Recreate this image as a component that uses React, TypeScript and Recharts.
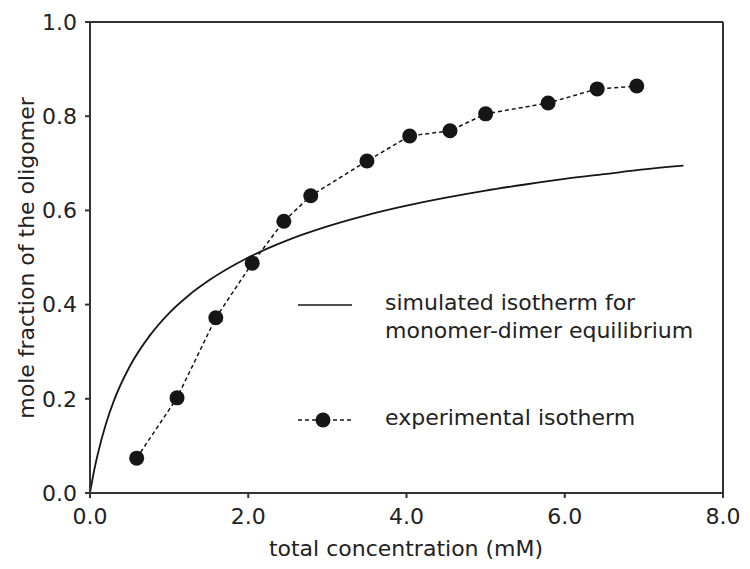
import React from 'react';
import { LineChart, Line, XAxis, YAxis, ReferenceLine, Legend } from 'recharts';

const FONT = 'DejaVu Sans';
const INK = '#161616';
const AXIS = '#333333';

// axis ticks
const xTicks = [0, 2, 4, 6, 8];
const yTicks = [0, 0.2, 0.4, 0.6, 0.8, 1.0];

// simulated isotherm (monomer-dimer equilibrium)
const simX = [0, 0.01, 0.02, 0.05, 0.1, 0.2, 0.3, 0.5, 0.75, 1.0, 1.25, 1.5, 2.0, 2.5, 3.0, 3.5, 4.0, 4.5, 5.0, 5.5, 6.0, 6.5, 7.0, 7.5];
const simY = [0, 0.010, 0.019, 0.046, 0.084, 0.146, 0.195, 0.268, 0.333, 0.382, 0.420, 0.451, 0.500, 0.537, 0.566, 0.590, 0.610, 0.627, 0.642, 0.655, 0.667, 0.677, 0.687, 0.695];

// experimental isotherm points
const expX = [0.59, 1.10, 1.59, 2.05, 2.45, 2.79, 3.50, 4.04, 4.55, 5.00, 5.79, 6.41, 6.91];
const expY = [0.074, 0.202, 0.372, 0.488, 0.577, 0.631, 0.705, 0.758, 0.769, 0.805, 0.828, 0.858, 0.864];

const simName1 = 'simulated isotherm for';
const simName2 = 'monomer-dimer equilibrium';
const expName = 'experimental isotherm';

const simulated = simX.map((x, i) => ({ x, y: simY[i] }));
const experimental = expX.map((x, i) => ({ x, y: expY[i] }));

const textStyle = { fontFamily: FONT, fontSize: 22, fill: '#222' };

const LegendBox = () => (
  <svg width={750} height={569} style={{ position: 'absolute', left: 0, top: 0, pointerEvents: 'none' }}>
    <line x1={298} y1={305} x2={352} y2={305} stroke={INK} strokeWidth={1.6} />
    <text x={385} y={310} {...textStyle}>{simName1}</text>
    <text x={385} y={337.5} {...textStyle}>{simName2}</text>
    <line x1={298} y1={420} x2={351} y2={420} stroke={INK} strokeWidth={1.5} strokeDasharray="4 3" />
    <circle cx={323} cy={420} r={7.5} fill={INK} />
    <text x={385} y={425} {...textStyle}>{expName}</text>
  </svg>
);

export default function App() {
  return (
    <div style={{ position: 'absolute', left: 0, top: 0, width: 750, height: 569, background: '#fff' }}>
      <LineChart width={750} height={569} margin={{ top: 22, right: 27, bottom: 0, left: 0 }}>
        <XAxis
          type="number"
          dataKey="x"
          domain={[0, 8]}
          ticks={xTicks}
          interval={0}
          tickFormatter={(v: number) => v.toFixed(1)}
          height={76}
          tickSize={5}
          tickMargin={10}
          axisLine={{ stroke: AXIS, strokeWidth: 2 }}
          tickLine={{ stroke: AXIS, strokeWidth: 2 }}
          tick={textStyle}
          label={{
            content: () => (
              <text x={406} y={556} textAnchor="middle" {...textStyle}>total concentration (mM)</text>
            ),
          }}
        />
        <YAxis
          type="number"
          dataKey="y"
          domain={[0, 1]}
          ticks={yTicks}
          interval={0}
          tickFormatter={(v: number) => v.toFixed(1)}
          width={90}
          tickSize={5}
          tickMargin={8}
          axisLine={{ stroke: AXIS, strokeWidth: 2 }}
          tickLine={{ stroke: AXIS, strokeWidth: 2 }}
          tick={textStyle}
          label={{
            content: () => (
              <text x={0} y={0} transform="translate(34,258) rotate(-90)" textAnchor="middle" {...textStyle}>
                mole fraction of the oligomer
              </text>
            ),
          }}
        />
        <ReferenceLine y={1} stroke={AXIS} strokeWidth={2} />
        <ReferenceLine x={8} stroke={AXIS} strokeWidth={2} />
        <Line
          data={simulated}
          dataKey="y"
          type="monotone"
          stroke={INK}
          strokeWidth={1.8}
          dot={false}
          activeDot={false}
          isAnimationActive={false}
          legendType="none"
        />
        <Line
          data={experimental}
          dataKey="y"
          type="linear"
          stroke={INK}
          strokeWidth={1.5}
          strokeDasharray="4 3"
          dot={{ r: 7.5, fill: INK, stroke: 'none' }}
          activeDot={false}
          isAnimationActive={false}
          legendType="none"
        />
        <Legend
          layout="horizontal"
          verticalAlign="middle"
          align="center"
          wrapperStyle={{ left: 0, top: 0, width: 750, height: 569, pointerEvents: 'none' }}
          content={() => <LegendBox />}
        />
      </LineChart>
    </div>
  );
}
